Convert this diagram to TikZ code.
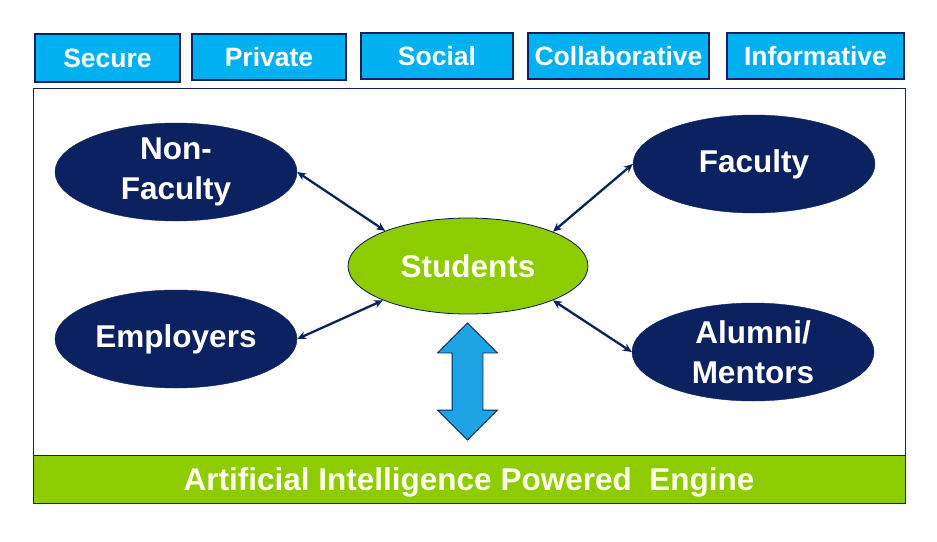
\documentclass[tikz,border=0pt]{standalone}
\usepackage{fontspec}
\setmainfont{Liberation Sans}
\usetikzlibrary{shapes.geometric, shapes.arrows, arrows.meta}
\definecolor{navy}{RGB}{11,33,96}
\definecolor{skyblue}{RGB}{0,176,240}
\definecolor{lime}{RGB}{140,204,0}
\definecolor{arrowblue}{RGB}{30,163,228}
\tikzset{every tag/.style={draw=navy,line width=1.2pt,fill=skyblue,text=white,
             font=\bfseries\fontsize{26.5}{30}\selectfont,inner sep=0pt},
         every group/.style={ellipse,draw=navy,fill=navy,text=white,align=center,
             minimum width=242pt,minimum height=98pt,inner sep=0pt,
             font=\bfseries\fontsize{31.5}{40}\selectfont},
         link/.style={navy,line width=2.3pt,<->,>={Stealth[length=9pt,width=8pt]}}}

\begin{document}
\begin{tikzpicture}[x=1pt,y=-1pt]
        \useasboundingbox (0,0) rectangle (937,541);
        % top row
        \node[every tag, minimum width=145pt, minimum height=48pt](sec)at(107.5,58){Secure};
        \node[every tag, minimum width=154pt, minimum height=46pt](pri)at(269,57){Private};
        \node[every tag, minimum width=152pt, minimum height=46pt](soc)at(437,56){Social};
        \node[every tag, minimum width=181pt, minimum height=46pt](col)at(618.5,56){Collaborative};
        \node[every tag, minimum width=177pt, minimum height=46pt](inf)at(815.5,56){Informative};

        % frame and engine
        \node[draw=navy, line width=0.8pt, minimum width=872pt, minimum height=367pt, inner sep=0pt](frame)at(469,271.5){};
        \node[draw=navy, line width=1pt, fill=lime, text=white!92!yellow, inner sep=0pt,
              minimum width=872pt, minimum height=48pt, text depth=0pt,
              font=\bfseries\fontsize{31.5}{34}\selectfont](engine)at(469,479){Artificial Intelligence Powered\ \ Engine};

        % groups
        \node[every group](nonfac)at(176,172){Non-\\Faculty};
        \node[every group](fac)at(754,164){Faculty};
        \node[every group](emp)at(176,339){Employers};
        \node[every group](alum)at(753,352){Alumni/\\Mentors};
        \node[every group, draw=navy!80!black, line width=0.8pt, fill=lime, text=white!92!yellow,
              minimum width=240pt, minimum height=96pt](stu)at(468,266){Students};

        \draw[link](nonfac.east)--(stu.157);
        \draw[link](fac.west)--(stu.22);
        \draw[link](emp.east)--(stu.202);
        \draw[link](alum.west)--(stu.338);

        \node[double arrow, rotate=90, draw=navy, line width=0.8pt, fill=arrowblue,
              minimum height=117pt, inner xsep=0pt, inner ysep=15pt,
              double arrow head extend=14.5pt](updown)at(467.5,381.5){};
    \end{tikzpicture}
\end{document}
